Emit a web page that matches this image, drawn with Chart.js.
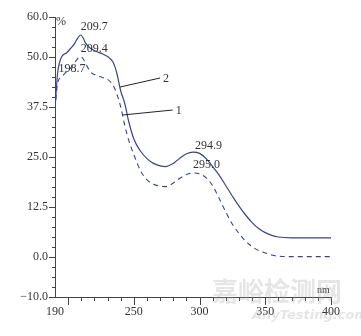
<!DOCTYPE html>
<html>
<head>
<meta charset="utf-8">
<script src="https://cdn.jsdelivr.net/npm/chart.js@4"></script>
<style>
  html, body { margin: 0; padding: 0; background: #fff; }
  #wrap { width: 361px; height: 336px; }
</style>
</head>
<body>
<div id="wrap"><canvas id="myChart" width="361" height="336"></canvas></div>
<script>
// wavelength grid (nm)
const wavelengths = [190, 192, 195, 198.7, 202, 205, 207, 209.5, 211.5, 213, 217, 222, 226, 230, 234, 237, 240, 243, 246, 250, 255, 260,
    265, 270, 274, 280, 285, 290, 295, 300, 305, 310, 315, 320, 325, 330, 335, 340, 345, 350, 355, 360, 370, 380, 390, 400];

// curve 1 (dashed)
const curve1 = [37, 43.5, 45, 46.3, 47.3, 48.6, 49.5, 50.1, 49.5, 48.6, 46.3, 45.3, 44.9, 44.4, 43, 40.8, 37.5, 33, 29.3, 25.6, 21.6, 19.3,
    18.2, 17.7, 17.6, 18.5, 19.7, 20.6, 21, 20.8, 19.8, 17.8, 14.6, 11.2, 8.2, 5.9, 4, 2.6, 1.6, 1, 0.5, 0.2, 0.1, 0.1, 0.1, 0.1];

// curve 2 (solid)
const curve2 = [37, 46, 50, 51, 52.2, 53.4, 54.6, 55.5, 54.7, 53.6, 52.2, 51.3, 50.8, 50.1, 48.8, 46, 41.5, 38.5, 34, 29.5, 26.5, 24.6,
    23.4, 22.8, 22.6, 23.4, 24.7, 25.8, 26.2, 25.9, 24.6, 22.6, 20.4, 17.8, 15.2, 12.7, 10.5, 8.6, 7.1, 6.1, 5.4, 5.0, 4.8, 4.8, 4.8, 4.8];

const xTickLabels = [190, 250, 300, 350, 400];
const yTickLabels = [-10, 0, 12.5, 25, 37.5, 50, 60];

// peak labels: text, anchor value
const peakTexts = ['209.7', '209.4', '198.7', '294.9', '295.0'];
const peakX = [209.5, 209.5, 198.7, 295, 295];
const peakY = [55.5, 50.1, 46.3, 26.2, 21];

// callouts: label, anchor on curve
const calloutTexts = ['2', '1'];
const calloutX = [239.5, 241.5];
const calloutY = [42.5, 35.5];

const inkColor = '#333';
const lineColor = '#3a4585';
const serif = '"Liberation Serif", "DejaVu Serif", serif';

const toPts = (ys) => wavelengths.map((w, i) => ({ x: w, y: ys[i] }));

const decor = {
    id: 'decor',
    afterDraw(chart) {
        const ctx = chart.ctx;
        const xs = chart.scales.x, ys = chart.scales.y;
        const area = chart.chartArea;
        ctx.save();
        ctx.strokeStyle = '#444';
        ctx.lineWidth = 1;
        // y ticks
        for (let v = -10; v <= 60.001; v += 2.5) {
            const py = Math.round(ys.getPixelForValue(v)) + 0.5;
            const major = yTickLabels.includes(v);
            ctx.beginPath();
            ctx.moveTo(area.left, py);
            ctx.lineTo(area.left - (major ? 6 : 3), py);
            ctx.stroke();
        }
        // x ticks
        for (let v = 200; v <= 400; v += 10) {
            const px = Math.round(xs.getPixelForValue(v)) + 0.5;
            const major = v % 50 === 0;
            ctx.beginPath();
            ctx.moveTo(px, area.bottom);
            ctx.lineTo(px, area.bottom + (major ? 8 : 4));
            ctx.stroke();
        }

        ctx.fillStyle = inkColor;
        ctx.font = '12px ' + serif;
        ctx.textBaseline = 'middle';
        ctx.textAlign = 'left';
        const offs = [[0, -8], [0, -8], [-8, -3], [2, -6], [0, -8]];
        peakTexts.forEach((t, i) => {
            const px = xs.getPixelForValue(peakX[i]);
            const py = ys.getPixelForValue(peakY[i]);
            ctx.fillText(t, px + offs[i][0], py + offs[i][1]);
        });

        // callout lines
        const ends = [[40, -9], [50, -5]];
        ctx.strokeStyle = '#222';
        calloutTexts.forEach((t, i) => {
            const px = xs.getPixelForValue(calloutX[i]);
            const py = ys.getPixelForValue(calloutY[i]);
            ctx.beginPath();
            ctx.moveTo(px, py);
            ctx.lineTo(px + ends[i][0], py + ends[i][1]);
            ctx.stroke();
            ctx.fillText(t, px + ends[i][0] + 3, py + ends[i][1] + 1);
        });

        // units
        ctx.font = '12px ' + serif;
        ctx.fillText('%', area.left + 1, area.top + 5);
        ctx.font = '10px ' + serif;
        ctx.fillText('nm', area.right - 14, area.bottom - 7);

        // watermark
        ctx.fillStyle = 'rgba(160,160,160,0.28)';
        ctx.font = 'bold 26px "Noto Sans CJK SC", sans-serif';
        ctx.fillText('嘉峪检测网', 212, 291);
        ctx.font = 'italic bold 13px "DejaVu Sans", sans-serif';
        ctx.fillText('AnyTesting.com', 252, 316);
        ctx.restore();
    }
};

const config = {
    type: 'line',
    data: {
        datasets: [{
            label: '2',
            data: toPts(curve2),
            borderColor: lineColor,
            borderWidth: 1.2,
            pointRadius: 0,
            cubicInterpolationMode: 'monotone',
            fill: false
        }, {
            label: '1',
            data: toPts(curve1),
            borderColor: lineColor,
            borderWidth: 1.1,
            borderDash: [5, 4],
            pointRadius: 0,
            cubicInterpolationMode: 'monotone',
            fill: false
        }]
    },
    options: {
        responsive: false,
        animation: false,
        devicePixelRatio: 1,
        layout: { padding: { top: 17, right: 30, left: 0, bottom: 0 } },
        plugins: { legend: { display: false }, tooltip: { enabled: false } },
        scales: {
            x: {
                type: 'linear',
                min: 190,
                max: 400,
                afterBuildTicks: (s) => { s.ticks = xTickLabels.map(v => ({ value: v })); },
                afterFit: (s) => { s.height = 39; },
                grid: { display: false, drawTicks: false },
                border: { display: true, color: '#444', width: 1 },
                ticks: {
                    padding: 8,
                    maxRotation: 0,
                    color: inkColor,
                    font: { family: serif, size: 12 }
                }
            },
            y: {
                min: -10,
                max: 60,
                afterBuildTicks: (s) => { s.ticks = yTickLabels.map(v => ({ value: v })); },
                afterFit: (s) => { s.width = 55; },
                grid: { display: false, drawTicks: false },
                border: { display: true, color: '#444', width: 1 },
                ticks: {
                    padding: 7,
                    color: inkColor,
                    font: { family: serif, size: 12 },
                    callback: (v) => (v < 0 ? '\u2212' : '') + Math.abs(v).toFixed(1)
                }
            }
        }
    },
    plugins: [decor]
};

const myChart = new Chart(document.getElementById('myChart'), config);
</script>
</body>
</html>
